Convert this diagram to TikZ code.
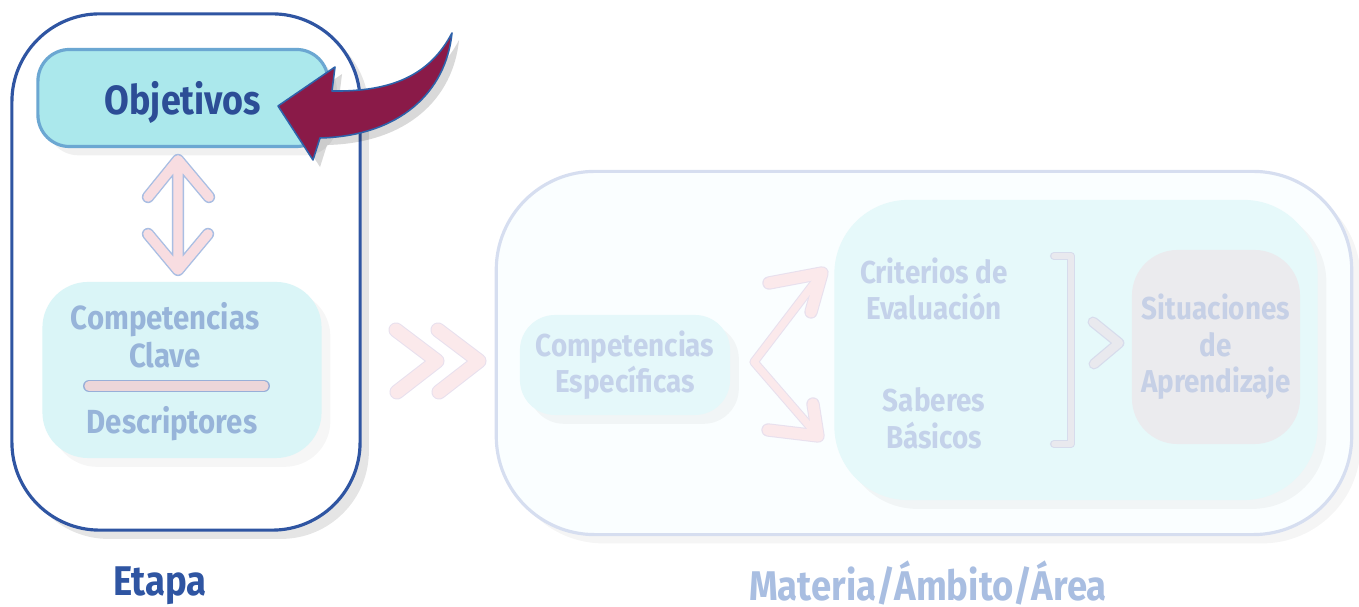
\documentclass[tikz,border=0pt]{standalone}
\usepackage{fontspec}
\setmainfont{Fira Sans}[FakeStretch=0.88]
\usepackage{tikz}
\usetikzlibrary{positioning, shadows}

\definecolor{etapablue}{HTML}{2F55A2}
\definecolor{objtext}{HTML}{2C4D96}
\definecolor{objfill}{HTML}{ABE8EC}
\definecolor{objdraw}{HTML}{6BA7D2}
\definecolor{clavefill}{HTML}{DAF5F7}
\definecolor{clavetext}{HTML}{97B4D9}
\definecolor{arrowpink}{HTML}{F8DDE1}
\definecolor{arrowline}{HTML}{A9BEE3}
\definecolor{barpink}{HTML}{ECD6D9}
\definecolor{barline}{HTML}{98AFD8}
\definecolor{areadraw}{HTML}{D6DEF0}
\definecolor{areafill}{HTML}{FAFEFF}
\definecolor{especfill}{HTML}{E5F8FA}
\definecolor{fadetext}{HTML}{C4D2EA}
\definecolor{innerfill}{HTML}{E6F9FA}
\definecolor{situfill}{HTML}{EBEBEE}
\definecolor{situtext}{HTML}{C6D0E6}
\definecolor{materiatext}{HTML}{A9BEE1}
\definecolor{chevpink}{HTML}{FBE9EB}
\definecolor{chevline}{HTML}{E8E0EE}
\definecolor{graybar}{HTML}{E9E9EE}
\definecolor{grayline}{HTML}{D7DCEC}
\definecolor{burgundy}{HTML}{8A1A48}
\definecolor{burgline}{HTML}{2E62AA}

\begin{document}
\begin{tikzpicture}[
    x=0.01cm, y=-0.01cm,
    % soft grey shadow under the boxes
    softshadow/.style = {drop shadow={shadow xshift=2.5pt, shadow yshift=-2.5pt, fill=black, opacity=#1}},
    softshadow/.default = 0.1,
    % the two large frames
    etapaframe/.style = {draw=etapablue, line width=0.9pt, fill=white, rounded corners=25pt, softshadow},
    areaframe/.style = {draw=areadraw, line width=0.9pt, fill=areafill, rounded corners=28pt, softshadow=0.04},
    % inner boxes
    objbox/.style = {draw=objdraw, line width=0.9pt, fill=objfill, rounded corners=9pt, softshadow=0.06},
    softbox/.style = {inner sep=0pt, softshadow=0.035},
    situbox/.style = {fill=situfill, rounded corners=13pt, inner sep=0pt},
    % texts
    bigtxt/.style = {font=\fontsize{11.6}{13}\selectfont\bfseries},
    midtxt/.style = {font=\fontsize{9.5}{10.8}\selectfont\bfseries, align=center},
    fadetxt/.style = {font=\fontsize{9}{10.4}\selectfont\bfseries, align=center, text=fadetext},
    labeltxt/.style = {font=\fontsize{11.8}{13}\selectfont\bfseries},
    % fat outlined arrows (outline colour, then fill colour)
    fatline/.style 2 args = {draw=#1, double=#2, line cap=round, line join=round},
]
    \useasboundingbox (0,0) rectangle (1359,607);

    % --- ETAPA (left block) ---
    \node[etapaframe, minimum width=3.48cm, minimum height=5.16cm] (etapa) at (186,272) {};
    \node[objbox, bigtxt, text=objtext, text depth=0pt, minimum width=2.9cm, minimum height=0.97cm] (obj) at (183,98) {Objetivos};

    \node[softbox, fill=clavefill, rounded corners=13pt, minimum width=2.79cm, minimum height=1.76cm] (clave) at (182,370) {};
    \node[midtxt, text=clavetext] (clavetxt) at (165,335) {Competencias\\Clave};
    \coordinate (barL) at (89,386);
    \coordinate (barR) at (264,386);
    \draw[fatline={barline}{barpink}, line width=0.4pt, double distance=2.6pt] (barL) -- (barR);
    \node[midtxt, text=clavetext] (desc) at (172,424) {Descriptores};

    \node[labeltxt, text=etapablue] (etapalbl) at (160,586) {Etapa};

    % double arrow Objetivos <-> Competencias Clave
    \coordinate (dtop) at (178,160);
    \coordinate (dbot) at (178,270);
    \draw[fatline={arrowline}{arrowpink}, line width=0.4pt, double distance=2.7pt]
        ([shift={(-30,37)}]dtop) -- (dtop) -- ([shift={(31,37)}]dtop)
        (dtop) -- (dbot)
        ([shift={(-30,-36)}]dbot) -- (dbot) -- ([shift={(30,-36)}]dbot);

    % --- MATERIA / AMBITO / AREA (right block) ---
    \node[areaframe, minimum width=8.55cm, minimum height=3.63cm] (area) at (924,353) {};
    \node[softbox, fill=especfill, rounded corners=10pt, minimum width=2.1cm, minimum height=1.0cm, fadetxt] (espec) at (625,365) {Competencias\\Específicas};

    \node[softbox, fill=innerfill, rounded corners=21pt, minimum width=4.83cm, minimum height=3.0cm] (inner) at (1076,350) {};
    \node[fadetxt] (crit) at (934,289) {Criterios de\\Evaluación};
    \node[fadetxt] (sab) at (934,418) {Saberes\\Básicos};

    \node[situbox, fadetxt, text=situtext, minimum width=1.68cm, minimum height=1.94cm] (situ) at (1216,347) {Situaciones\\de\\Aprendizaje};

    \node[labeltxt, text=materiatext] (materialbl) at (928,583) {Materia/Ámbito/Área};

    % >> between the two blocks
    \foreach \cx in {437,479} {
        \draw[fatline={chevline}{chevpink}, line width=0.3pt, double distance=3.7pt]
            (\cx-41,330) -- (\cx,361) -- (\cx-40,392);
    }

    % branching arrow to Criterios / Saberes
    \coordinate (fork) at (754,362);
    \coordinate (critip) at (822,273);
    \coordinate (sabtip) at (818,436);
    \draw[chevline, line width=2.6pt, line cap=round, line join=round] (critip) -- (fork) -- (sabtip);
    \draw[chevline, line width=3.8pt, line cap=round, line join=round]
        (769,283) -- (critip) -- (811,312) (768,430) -- (sabtip) -- (813,404);
    \draw[chevpink, line width=2.0pt, line cap=round, line join=round] (critip) -- (fork) -- (sabtip);
    \draw[chevpink, line width=3.2pt, line cap=round, line join=round]
        (769,283) -- (critip) -- (811,312) (768,430) -- (sabtip) -- (813,404);

    % bracket and > towards Situaciones
    \coordinate (brtop) at (1071,256);
    \coordinate (brbot) at (1071,444);
    \draw[fatline={grayline}{graybar}, line width=0.4pt, double distance=1.5pt]
        ([shift={(-17,0)}]brtop) -- (brtop) -- (brbot) -- ([shift={(-17,0)}]brbot);
    \draw[fatline={grayline}{graybar}, line width=0.35pt, double distance=2.4pt]
        (1093,322) -- (1119,343) -- (1094,364);

    % pointer onto Objetivos
    \draw[fill=burgundy, draw=burgline, line width=0.45pt, line join=round,
          drop shadow={shadow xshift=2pt, shadow yshift=-2pt, fill=black, opacity=0.15}]
        (452,33) .. controls (430,75) and (392,92) .. (332,91) -- (335,67) -- (278,106)
        -- (313,160) -- (320,138) .. controls (400,136) and (446,92) .. (452,33) -- cycle;

\end{tikzpicture}
\end{document}
